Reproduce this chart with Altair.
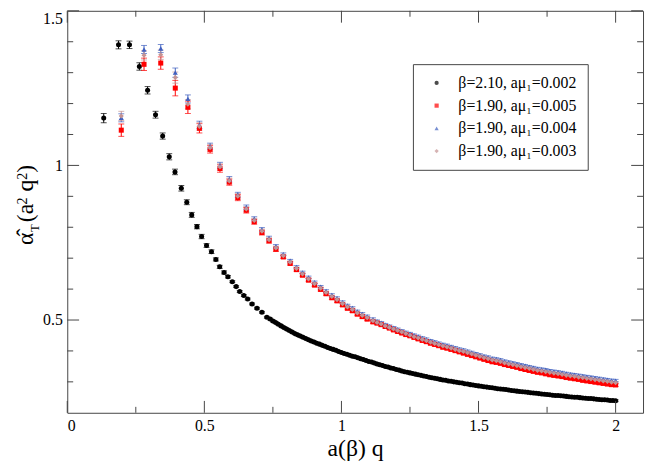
import altair as alt
import pandas as pd

# ---------------- data ----------------
labels = ["β=2.10, aμ₁=0.002", "β=1.90, aμ₁=0.005", "β=1.90, aμ₁=0.004", "β=1.90, aμ₁=0.003"]
colors = ["#000000", "#ff0000", "#3f5fbf", "#c49393"]
shapes = ["circle", "square", "triangle-up", "diamond"]

black_x = [0.133, 0.187, 0.227, 0.263, 0.293, 0.322, 0.348, 0.372, 0.393, 0.416,
           0.436, 0.454, 0.473, 0.490, 0.508, 0.526, 0.542, 0.556, 0.572, 0.586,
           0.602, 0.616, 0.629, 0.644, 0.658, 0.674, 0.692, 0.710, 0.728,
           0.74, 0.75, 0.76, 0.77, 0.78, 0.79, 0.80, 0.81, 0.82, 0.83,
           0.84, 0.85, 0.86, 0.87, 0.88, 0.89, 0.90, 0.91, 0.92, 0.93,
           0.94, 0.95, 0.96, 0.97, 0.98, 0.99, 1.00, 1.01, 1.02, 1.03,
           1.04, 1.05, 1.06, 1.07, 1.08, 1.09, 1.10, 1.11, 1.12, 1.13,
           1.14, 1.15, 1.16, 1.17, 1.18, 1.19, 1.20, 1.21, 1.22, 1.23,
           1.24, 1.25, 1.26, 1.27, 1.28, 1.29, 1.30, 1.31, 1.32, 1.33,
           1.34, 1.35, 1.36, 1.37, 1.38, 1.39, 1.40, 1.41, 1.42, 1.43,
           1.44, 1.45, 1.46, 1.47, 1.48, 1.49, 1.50, 1.51, 1.52, 1.53,
           1.54, 1.55, 1.56, 1.57, 1.58, 1.59, 1.60, 1.61, 1.62, 1.63,
           1.64, 1.65, 1.66, 1.67, 1.68, 1.69, 1.70, 1.71, 1.72, 1.73,
           1.74, 1.75, 1.76, 1.77, 1.78, 1.79, 1.80, 1.81, 1.82, 1.83,
           1.84, 1.85, 1.86, 1.87, 1.88, 1.89, 1.90, 1.91, 1.92, 1.93,
           1.94, 1.95, 1.96, 1.97, 1.98, 1.99, 2.00]
black_y = [1.153, 1.390, 1.390, 1.320, 1.243, 1.164, 1.095, 1.028, 0.979, 0.926,
           0.881, 0.840, 0.802, 0.770, 0.741, 0.721, 0.696, 0.672, 0.654, 0.640,
           0.624, 0.608, 0.592, 0.579, 0.568, 0.552, 0.538, 0.525, 0.509,
           0.503, 0.497, 0.492, 0.486, 0.481, 0.476, 0.471, 0.466, 0.461, 0.456,
           0.452, 0.448, 0.444, 0.440, 0.436, 0.432, 0.429, 0.425, 0.422, 0.418,
           0.415, 0.411, 0.408, 0.405, 0.402, 0.398, 0.395, 0.392, 0.389, 0.386,
           0.383, 0.381, 0.378, 0.375, 0.372, 0.369, 0.366, 0.364, 0.361, 0.358,
           0.355, 0.353, 0.350, 0.348, 0.345, 0.343, 0.340, 0.338, 0.335, 0.333,
           0.331, 0.329, 0.327, 0.325, 0.323, 0.321, 0.319, 0.317, 0.315, 0.313,
           0.312, 0.310, 0.308, 0.306, 0.305, 0.303, 0.302, 0.300, 0.299, 0.297,
           0.296, 0.294, 0.293, 0.291, 0.290, 0.288, 0.287, 0.286, 0.284, 0.283,
           0.282, 0.281, 0.279, 0.278, 0.277, 0.276, 0.275, 0.274, 0.272, 0.271,
           0.270, 0.269, 0.268, 0.267, 0.266, 0.265, 0.264, 0.263, 0.262, 0.261,
           0.260, 0.259, 0.258, 0.257, 0.256, 0.256, 0.255, 0.254, 0.253, 0.252,
           0.251, 0.250, 0.250, 0.249, 0.248, 0.247, 0.246, 0.246, 0.245, 0.244,
           0.243, 0.242, 0.242, 0.241, 0.240, 0.240, 0.239]
black_err = [0.015, 0.013, 0.012, 0.012, 0.012, 0.011, 0.010, 0.010, 0.009, 0.009,
             0.008, 0.008, 0.007, 0.007, 0.006, 0.006, 0.005, 0.005, 0.005, 0.004] + [0.003] * 136

heavy_x = [0.197, 0.280, 0.341, 0.394, 0.440,
           0.482, 0.521, 0.557, 0.591, 0.622, 0.653, 0.682, 0.710, 0.736, 0.761,
           0.788, 0.813, 0.836, 0.858, 0.880, 0.902, 0.924, 0.944, 0.965, 0.984,
           1.004, 1.022, 1.040, 1.058, 1.076, 1.094, 1.115,
           1.130, 1.145, 1.160, 1.175, 1.190, 1.205, 1.220, 1.235, 1.250, 1.265,
           1.280, 1.295, 1.310, 1.325, 1.340, 1.355, 1.370, 1.385, 1.400, 1.415,
           1.430, 1.445, 1.460, 1.475, 1.490, 1.505, 1.520, 1.535, 1.550, 1.565,
           1.580, 1.595, 1.610, 1.625, 1.640, 1.655, 1.670, 1.685, 1.700, 1.715,
           1.730, 1.745, 1.760, 1.775, 1.790, 1.805, 1.820, 1.835, 1.850, 1.865,
           1.880, 1.895, 1.910, 1.925, 1.940, 1.955, 1.970, 1.985, 2.000]
red_y = [1.114, 1.327, 1.331, 1.250, 1.188,
         1.120, 1.052, 0.990, 0.946, 0.896, 0.855, 0.818, 0.783, 0.756, 0.729,
         0.704, 0.683, 0.663, 0.645, 0.629, 0.613, 0.599, 0.585, 0.572, 0.562,
         0.549, 0.538, 0.530, 0.519, 0.511, 0.503, 0.494,
         0.490, 0.485, 0.479, 0.474, 0.468, 0.463, 0.458, 0.453, 0.449, 0.444,
         0.439, 0.434, 0.430, 0.425, 0.421, 0.417, 0.412, 0.409, 0.405, 0.401,
         0.397, 0.393, 0.389, 0.385, 0.381, 0.377, 0.373, 0.369, 0.365, 0.363,
         0.360, 0.356, 0.353, 0.350, 0.347, 0.343, 0.340, 0.337, 0.334, 0.331,
         0.329, 0.326, 0.323, 0.321, 0.319, 0.317, 0.314, 0.312, 0.310, 0.308,
         0.305, 0.303, 0.301, 0.299, 0.297, 0.295, 0.293, 0.291, 0.290]
blue_y = [1.154, 1.375, 1.378, 1.300, 1.215,
          1.131, 1.062, 1.000, 0.955, 0.905, 0.864, 0.827, 0.792, 0.765, 0.738,
          0.713, 0.692, 0.672, 0.654, 0.638, 0.622, 0.608, 0.594, 0.581, 0.571,
          0.558, 0.547, 0.539, 0.528, 0.520, 0.512, 0.503,
          0.496, 0.491, 0.485, 0.480, 0.475, 0.470, 0.465, 0.460, 0.456, 0.451,
          0.447, 0.442, 0.438, 0.433, 0.429, 0.425, 0.421, 0.418, 0.414, 0.410,
          0.406, 0.403, 0.399, 0.395, 0.391, 0.387, 0.383, 0.380, 0.376, 0.374,
          0.371, 0.367, 0.364, 0.361, 0.358, 0.355, 0.352, 0.349, 0.346, 0.343,
          0.341, 0.339, 0.336, 0.334, 0.332, 0.330, 0.327, 0.325, 0.323, 0.321,
          0.319, 0.317, 0.315, 0.313, 0.311, 0.309, 0.307, 0.305, 0.304]
pink_y = [1.160, 1.356, 1.358, 1.284, 1.198,
          1.126, 1.057, 0.995, 0.950, 0.900, 0.859, 0.822, 0.787, 0.760, 0.733,
          0.708, 0.687, 0.667, 0.649, 0.633, 0.617, 0.603, 0.589, 0.576, 0.566,
          0.553, 0.542, 0.534, 0.523, 0.515, 0.507, 0.498,
          0.492, 0.487, 0.481, 0.476, 0.471, 0.466, 0.461, 0.456, 0.451, 0.446,
          0.442, 0.437, 0.433, 0.428, 0.424, 0.420, 0.416, 0.413, 0.409, 0.405,
          0.401, 0.398, 0.394, 0.390, 0.386, 0.382, 0.378, 0.375, 0.371, 0.368,
          0.365, 0.361, 0.358, 0.355, 0.352, 0.349, 0.346, 0.343, 0.340, 0.337,
          0.335, 0.333, 0.330, 0.328, 0.326, 0.324, 0.321, 0.319, 0.317, 0.315,
          0.313, 0.311, 0.309, 0.307, 0.305, 0.303, 0.301, 0.299, 0.297]
red_err = [0.020, 0.020, 0.020, 0.025, 0.020, 0.015, 0.012, 0.012, 0.010, 0.010,
           0.009, 0.008, 0.008, 0.007, 0.007] + [0.005] * 76
blue_err = [0.013, 0.013, 0.013, 0.015, 0.013, 0.012, 0.010, 0.010, 0.009, 0.008,
            0.008, 0.007, 0.007, 0.006, 0.006] + [0.004] * 76
pink_err = [0.015, 0.015, 0.015, 0.018, 0.015, 0.012, 0.011, 0.010, 0.009, 0.009,
            0.008, 0.007, 0.007, 0.006, 0.006] + [0.004] * 76

x_major = [0, 0.5, 1, 1.5, 2]
x_minor = [0.25, 0.75, 1.25, 1.75]
y_major = [0.5, 1.0, 1.5]
y_minor = [0.3, 0.4, 0.6, 0.7, 0.8, 0.9, 1.1, 1.2, 1.3, 1.4]

# ---------------- build table ----------------
rows = []
for xs, ys, es, lab in [(black_x, black_y, black_err, labels[0]),
                        (heavy_x, red_y, red_err, labels[1]),
                        (heavy_x, blue_y, blue_err, labels[2]),
                        (heavy_x, pink_y, pink_err, labels[3])]:
    for xv, yv, ev in zip(xs, ys, es):
        rows.append({"x": xv, "y": yv, "lo": yv - ev, "hi": yv + ev, "series": lab})
df = pd.DataFrame(rows)

W, H = 583, 407
FONT = "Liberation Serif"
FRAME = "#444444"

xscale = alt.Scale(domain=[0, 2.1], nice=False, zero=False)
yscale = alt.Scale(domain=[0.2, 1.5], nice=False, zero=False)
cscale = alt.Scale(domain=labels, range=colors)
sscale = alt.Scale(domain=labels, range=shapes)

legend = alt.Legend(orient="none", legendX=350, legendY=54, title=None,
                    labelFont=FONT, labelFontSize=16, labelColor="black",
                    symbolSize=18, symbolOffset=5, labelOffset=14, rowPadding=7,
                    padding=11, strokeColor=FRAME, fillColor="white",
                    labelLimit=400, symbolStrokeWidth=0)

xaxis = alt.Axis(values=x_major, format="~g", tickSize=0, domain=False, grid=False,
                 labelFont=FONT, labelFontSize=16, labelColor="black", labelPadding=5,
                 title="a(β) q", titleFont=FONT, titleFontSize=24, titleFontWeight="normal",
                 titleColor="black", titlePadding=3)
yaxis = alt.Axis(values=y_major, format="~g", tickSize=0, domain=False, grid=False,
                 labelFont=FONT, labelFontSize=16, labelColor="black", labelPadding=5,
                 labelFlush=True, title=None)

base = alt.Chart(df)
X = alt.X("x:Q", scale=xscale, axis=xaxis)
Y = alt.Y("y:Q", scale=yscale, axis=yaxis)
C = alt.Color("series:N", scale=cscale, legend=legend)
S = alt.Shape("series:N", scale=sscale, legend=legend)

err_rule = base.mark_rule(strokeWidth=1).encode(
    x=X, y=alt.Y("lo:Q", scale=yscale, axis=yaxis), y2="hi:Q", color=C)
cap_lo = base.mark_tick(orient="horizontal", size=6, thickness=1).encode(
    x=X, y=alt.Y("lo:Q", scale=yscale, axis=yaxis), color=C)
cap_hi = base.mark_tick(orient="horizontal", size=6, thickness=1).encode(
    x=X, y=alt.Y("hi:Q", scale=yscale, axis=yaxis), color=C)
pts = base.mark_point(filled=True, size=26, opacity=1).encode(x=X, y=Y, color=C, shape=S)

layers = [err_rule, cap_lo, cap_hi, pts]

# inward ticks on all four sides
def xt(vals, top, ln):
    d = pd.DataFrame({"x": vals})
    y1, y2 = (0, ln) if top else (H, H - ln)
    return alt.Chart(d).mark_rule(color=FRAME, strokeWidth=1).encode(
        x=alt.X("x:Q", scale=xscale, axis=xaxis), y=alt.value(y1), y2=alt.value(y2))

def yt(vals, right, ln):
    d = pd.DataFrame({"y": vals})
    x1, x2 = (W, W - ln) if right else (0, ln)
    return alt.Chart(d).mark_rule(color=FRAME, strokeWidth=1).encode(
        y=alt.Y("y:Q", scale=yscale, axis=yaxis), x=alt.value(x1), x2=alt.value(x2))

layers += [xt(x_major, False, 12), xt(x_minor, False, 6), xt(x_major, True, 12), xt(x_minor, True, 6),
           yt(y_major, False, 12), yt(y_minor, False, 6), yt(y_major, True, 12), yt(y_minor, True, 6)]

# y-axis title built from pieces: α̂_T(a^2 q^2)
pieces = [("α̂", -35, 237, 24), ("T", -29, 224, 13), ("(a", -35, 214, 24),
          ("2", -41, 196, 14), ("q", -35, 183, 24), ("2", -41, 171, 14), (")", -35, 164, 24)]
for txt, px, py, fs in pieces:
    layers.append(alt.Chart(pd.DataFrame({"t": [txt]})).mark_text(
        angle=270, align="left", baseline="alphabetic", font=FONT, fontSize=fs, color="black"
    ).encode(text="t:N", x=alt.value(px), y=alt.value(py)))

chart = alt.layer(*layers).properties(
    width=W, height=H,
    padding={"left": 60, "top": 0, "right": 3, "bottom": 48},
    autosize=alt.AutoSizeParams(type="none"),
).configure_view(stroke=FRAME, strokeWidth=1)

chart.save("out.html", embed_options={"renderer": "svg", "actions": False})
